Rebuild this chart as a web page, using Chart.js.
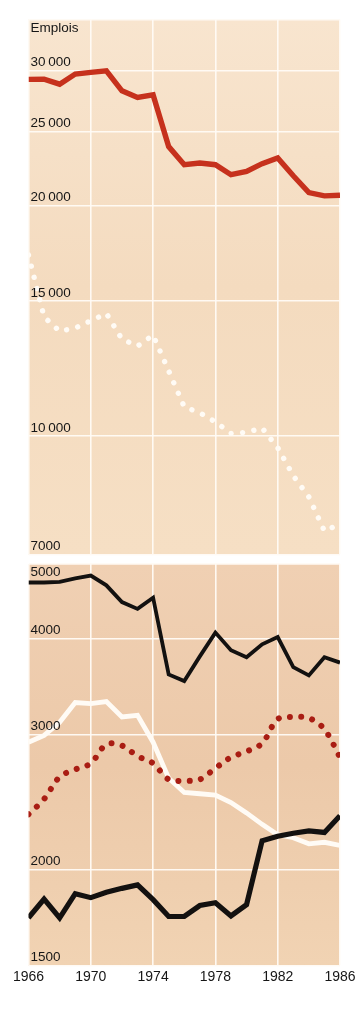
<!DOCTYPE html>
<html><head><meta charset="utf-8">
<script src="https://cdn.jsdelivr.net/npm/chart.js@4.4.1/dist/chart.umd.min.js"></script>
<style>
html,body{margin:0;padding:0;background:#fff;}
canvas{position:absolute;left:0;}
#topc{top:0;}
#botc{top:556px;}
</style></head><body>
<canvas id="topc" width="362" height="560"></canvas>
<canvas id="botc" width="362" height="468"></canvas>
<script>
// ---- data ----
const years = [1966,1967,1968,1969,1970,1971,1972,1973,1974,1975,1976,1977,1978,1979,1980,1981,1982,1983,1984,1985,1986];
const xTicks = [1966,1970,1974,1978,1982,1986];

const topTitle = 'Emplois';
const topTickValues = [30000,25000,20000,15000,10000,7000];
const topTickLabels = ['30\u2009000','25\u2009000','20\u2009000','15\u2009000','10\u2009000','7000'];
const topRange = [7000, 35000];

const botTickValues = [5000,4000,3000,2000,1500];
const botTickLabels = ['5000','4000','3000','2000','1500'];
const botRange = [1500, 5000];

// top panel series
const redSolid   = [29230,29250,28810,29700,29850,30000,28240,27680,27900,23880,22610,22730,22610,21940,22160,22680,23080,21870,20790,20590,20630];
const whiteDots  = [17230,14300,13700,13830,14140,14450,13380,13100,13540,12160,10910,10720,10430,10075,10105,10240,9650,8870,8320,7510,7670];

// bottom panel series
const blackUpper = [4730,4730,4740,4790,4830,4690,4460,4370,4520,3590,3520,3790,4070,3860,3780,3930,4016,3670,3580,3780,3720];
const whiteSolid = [2930,2990,3110,3300,3290,3310,3160,3175,2930,2630,2520,2510,2500,2445,2370,2290,2220,2200,2160,2170,2150];
const redDots    = [2360,2470,2640,2700,2750,2910,2900,2810,2750,2620,2610,2620,2710,2800,2850,2920,3140,3160,3150,3045,2800];
const blackLower = [1730,1830,1730,1860,1838,1868,1890,1910,1827,1737,1737,1795,1810,1740,1800,2180,2210,2230,2245,2235,2350];

const pts = arr => arr.map((v,i)=>({x:years[i], y:v}));

// ---- plugins ----
const bgPlugin = {
  id:'panelBg',
  beforeDraw(chart, args, opts){
    const {ctx, chartArea:a} = chart;
    const g = ctx.createLinearGradient(0,a.top,0,a.bottom);
    opts.stops.forEach(s=>g.addColorStop(s[0],s[1]));
    ctx.save(); ctx.fillStyle=g; ctx.fillRect(a.left,a.top,a.right-a.left,a.bottom-a.top); ctx.restore();
  }
};
const labelPlugin = {
  id:'inlineLabels',
  afterDatasetsDraw(chart, args, opts){
    const {ctx, chartArea:a} = chart; const y = chart.scales.y;
    ctx.save();
    ctx.font = opts.font; ctx.fillStyle = opts.color; ctx.textAlign='left'; ctx.textBaseline='middle';
    opts.values.forEach((v,i)=>{
      const p = y.getPixelForValue(v);
      const dy = (v >= y.max) ? 8.5 : -8;
      ctx.fillText(opts.labels[i], a.left + 2, p + dy);
    });
    if (opts.title) ctx.fillText(opts.title, a.left + 2, y.getPixelForValue(y.max) + 9);
    ctx.restore();
  }
};
Chart.register(bgPlugin, labelPlugin);

const gridColor = 'rgba(255,251,245,0.95)';
function axes(yRange, yTicks, showX){
  return {
    x:{type:'linear', min:1966, max:1986,
       afterBuildTicks: s=>{ s.ticks = xTicks.map(v=>({value:v})); },
       grid:{color:gridColor, lineWidth:1.6, drawTicks:false},
       border:{display:false},
       ticks:{display:showX, padding:3, color:'#161616', font:{family:'Liberation Sans, Arial, sans-serif', size:14}, callback:v=>String(v), maxRotation:0, autoSkip:false}
    },
    y:{type:'logarithmic', min:yRange[0], max:yRange[1],
       afterBuildTicks: s=>{ s.ticks = yTicks.concat([yRange[1]]).map(v=>({value:v})); },
       grid:{color:gridColor, lineWidth:1.6, drawTicks:false},
       border:{display:false},
       ticks:{display:false}
    }
  };
}
const common = {
  responsive:false, animation:false, devicePixelRatio:1, events:[],
  elements:{point:{radius:0}}
};
const labelFont = '13.5px "Liberation Sans", Arial, sans-serif';

new Chart(document.getElementById('topc'), {
  type:'line',
  data:{datasets:[
    {data:pts(redSolid), borderColor:'#c6311d', borderWidth:5.4, tension:0, borderJoinStyle:'miter'},
    {data:pts(whiteDots), borderColor:'#fffbf5', borderWidth:5.4, borderDash:[0.01,11.5], borderCapStyle:'round', tension:0}
  ]},
  options:Object.assign({}, common, {
    layout:{padding:{left:28.5, right:22, top:19.5, bottom:5.6}},
    scales:axes(topRange, topTickValues, false),
    plugins:{legend:{display:false}, tooltip:{enabled:false},
      panelBg:{stops:[[0,'#f8e5cf'],[0.5,'#f4dbbf'],[1,'#f6dfc4']]},
      inlineLabels:{values:topTickValues, labels:topTickLabels, title:topTitle, font:labelFont, color:'#161616'}
    }
  })
});

new Chart(document.getElementById('botc'), {
  type:'line',
  data:{datasets:[
    {data:pts(blackLower), borderColor:'#131110', borderWidth:5.2, tension:0},
    {data:pts(blackUpper), borderColor:'#131110', borderWidth:3.8, tension:0},
    {data:pts(redDots), borderColor:'#a91d13', borderWidth:6, borderDash:[0.01,11.3], borderCapStyle:'round', tension:0.35},
    {data:pts(whiteSolid), borderColor:'#fffbf5', borderWidth:4.8, tension:0}
  ]},
  options:Object.assign({}, common, {
    layout:{padding:{left:28.5, right:22, top:8, bottom:35.8}},
    scales:axes(botRange, botTickValues, true),
    plugins:{legend:{display:false}, tooltip:{enabled:false},
      panelBg:{stops:[[0,'#f0d0b3'],[0.5,'#ecc9a9'],[1,'#f1d3b3']]},
      inlineLabels:{values:botTickValues, labels:botTickLabels, font:labelFont, color:'#161616'}
    }
  })
});
</script>
</body></html>
